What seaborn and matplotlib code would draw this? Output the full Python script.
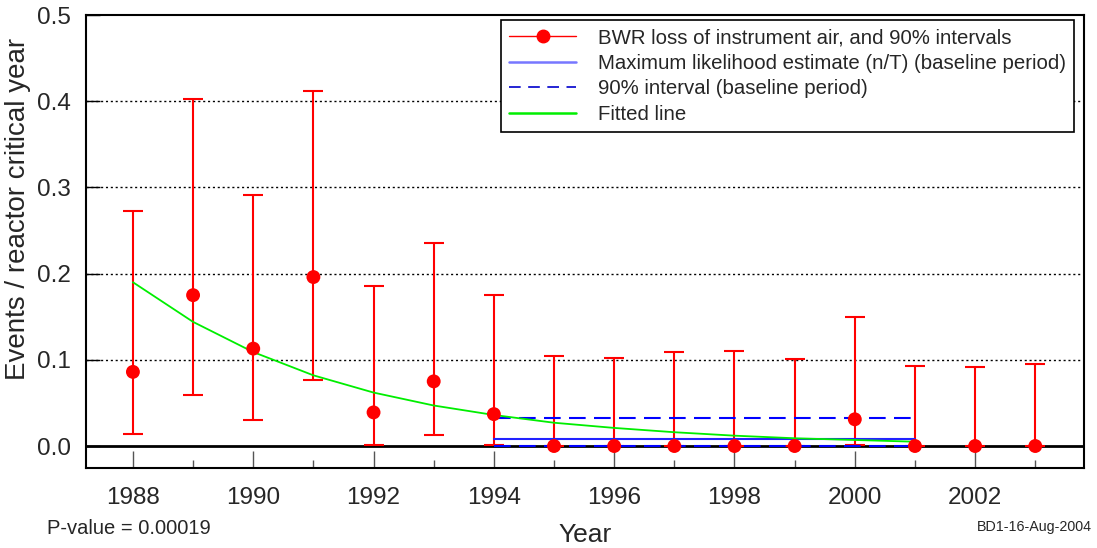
import numpy as np
import pandas as pd
import matplotlib
matplotlib.use("Agg")
import matplotlib.pyplot as plt
import seaborn as sns
from matplotlib.lines import Line2D

# ---- data ----
years = [1988, 1989, 1990, 1991, 1992, 1993, 1994, 1995, 1996, 1997, 1998, 1999, 2000, 2001, 2002, 2003]
rate = [0.086, 0.175, 0.113, 0.196, 0.039, 0.075, 0.037, 0.0, 0.0, 0.0, 0.0, 0.0, 0.031, 0.0, 0.0, 0.0]
upper = [0.273, 0.403, 0.291, 0.412, 0.186, 0.236, 0.175, 0.105, 0.102, 0.109, 0.110, 0.101, 0.150, 0.093, 0.092, 0.095]
lower = [0.014, 0.059, 0.030, 0.077, 0.001, 0.013, 0.001, 0.0, 0.0, 0.0, 0.0, 0.0, 0.001, 0.0, 0.0, 0.0]

fit_years = [1988, 1989, 1990, 1991, 1992, 1993, 1994, 1995, 1996, 1997, 1998, 1999, 2000, 2001]
fit_vals = [0.190, 0.144, 0.109, 0.082, 0.062, 0.047, 0.036, 0.027, 0.021, 0.016, 0.012, 0.009, 0.007, 0.005]

base_years = [1994, 2001]
mle = [0.008, 0.008]
ci_hi = [0.032, 0.032]
ci_lo = [0.0004, 0.0004]

xticks = [1988, 1990, 1992, 1994, 1996, 1998, 2000, 2002]
yticks = [0.0, 0.1, 0.2, 0.3, 0.4, 0.5]

sns.set_theme(style="white")
plt.rcParams['font.family'] = ['Liberation Sans', 'DejaVu Sans']

fig = plt.figure(figsize=(10.97, 5.48), dpi=100)
ax = fig.add_axes([86/1097, 1-468/548, (1084-86)/1097, (468-15)/548])

df = pd.DataFrame({"year": years, "rate": rate, "upper": upper, "lower": lower})
dfit = pd.DataFrame({"year": fit_years, "fit": fit_vals})

# grid lines
for yv in yticks[1:5]:
    ax.axhline(yv, color="black", lw=1.0, ls=(0, (1.5, 2)), zorder=1)
ax.axhline(0, color="black", lw=2.0, zorder=2)

# error bars
yerr = np.array([np.array(rate) - np.array(lower), np.array(upper) - np.array(rate)])
ax.errorbar(years, rate, yerr=yerr, fmt="none", ecolor="red", elinewidth=1.5, capsize=7, capthick=1.5, zorder=3)

# baseline lines
ax.plot(base_years, mle, color="#2222ff", lw=1.5, zorder=4)
ax.plot(base_years, ci_hi, color="blue", lw=1.5, dashes=(8, 4), zorder=4)
ax.plot(base_years, ci_lo, color="blue", lw=1.5, dashes=(8, 4), zorder=4)

# fitted line
sns.lineplot(data=dfit, x="year", y="fit", ax=ax, color="#00ee00", lw=1.3, zorder=5, legend=False)

# points
sns.scatterplot(data=df, x="year", y="rate", ax=ax, color="red", s=100, edgecolor="none", zorder=6, legend=False)

ax.set_xlim(1987.22, 2003.81)
ax.set_ylim(-0.0255, 0.5)
ax.set_xticks(xticks)
ax.set_xticks(range(1988, 2004), minor=True)
ax.set_yticks(yticks)
ax.set_yticklabels([f"{v:.1f}" for v in yticks])
ax.tick_params(axis="x", which="major", direction="in", length=12, width=1, color="#555555", labelsize=17.5, pad=14, bottom=True)
ax.tick_params(axis="x", which="minor", direction="in", length=6, width=1, color="#555555", bottom=True)
ax.tick_params(axis="y", which="major", direction="in", length=10, width=1, color="black", labelsize=17.5, pad=11, left=True)

for sp in ax.spines.values():
    sp.set_color("black")
    sp.set_linewidth(1.5)

ax.set_xlabel("")
ax.set_ylabel("")
fig.text(18/1097, 1-209/548, "Events / reactor critical year", fontsize=20, rotation=90, ha="center", va="center")
fig.text(585/1097, 1-535/548, "Year", fontsize=19, ha="center", va="center")
fig.text(47/1097, 1-528/548, "P-value = 0.00019", fontsize=14.5, ha="left", va="center")
fig.text(1092/1097, 1-527/548, "BD1-16-Aug-2004", fontsize=10.3, ha="right", va="center")

handles = [
    Line2D([0], [0], color="red", lw=1, marker="o", markersize=9, markerfacecolor="red", markeredgecolor="red"),
    Line2D([0], [0], color="#7777ff", lw=1.8),
    Line2D([0], [0], color="#0000cc", lw=1.2, dashes=(7, 4.5)),
    Line2D([0], [0], color="#00ee00", lw=1.8),
]
labels = [
    "BWR loss of instrument air, and 90% intervals",
    "Maximum likelihood estimate (n/T) (baseline period)",
    "90% interval (baseline period)",
    "Fitted line",
]
leg = ax.legend(handles, labels, loc="upper right", bbox_to_anchor=((1074-86)/998, 1-(20-15)/453), fontsize=14.7,
                frameon=True, fancybox=False, edgecolor="black", framealpha=1, handlelength=3.3,
                handletextpad=1.05, labelspacing=0.32, borderpad=0.4, borderaxespad=0)
leg.get_frame().set_linewidth(1.2)
leg.set_zorder(10)

fig.savefig("out.png", dpi=100)
